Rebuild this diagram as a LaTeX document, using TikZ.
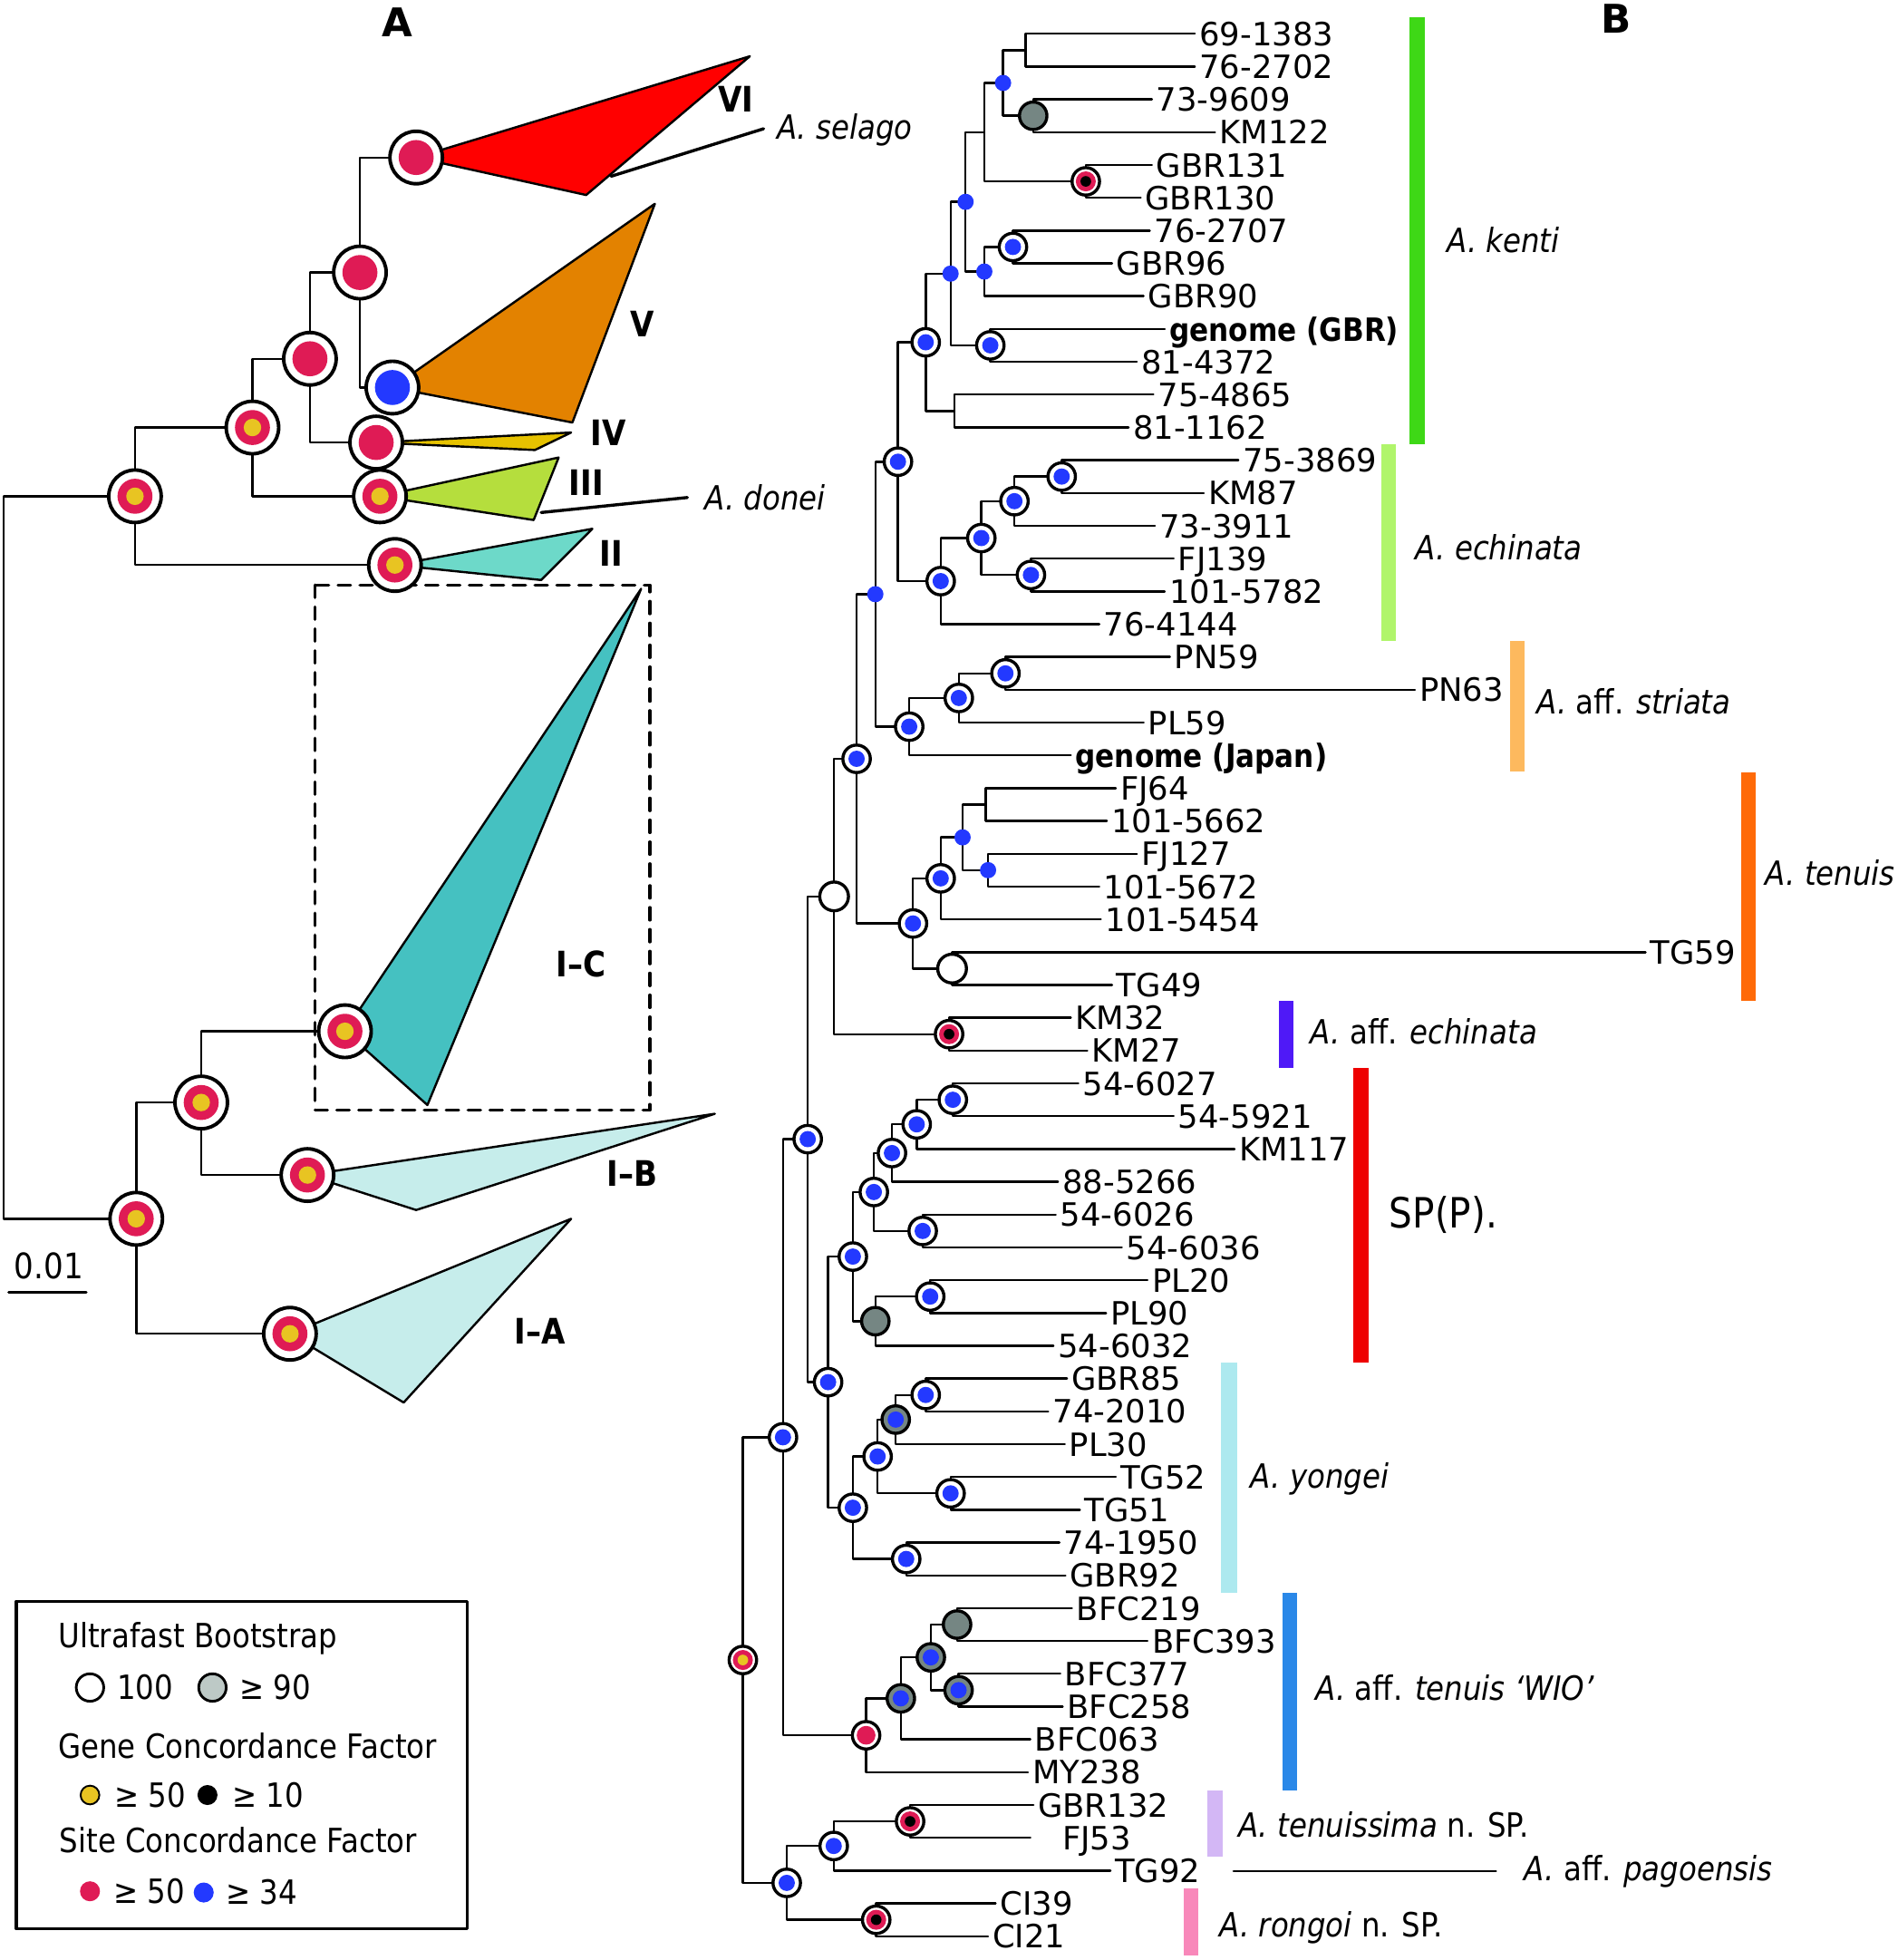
\documentclass[tikz,border=0pt]{standalone}
\usepackage{fontspec}
\setmainfont{DejaVu Sans}
\newfontfamily\estrecha{DejaVu Sans}[FakeStretch=0.88]
\usepackage{tikz}
\usepackage{xcolor}

% colores de soporte
\definecolor{rojoscf}{HTML}{DF1B55}
\definecolor{azulscf}{HTML}{2339FF}
\definecolor{amarillogcf}{HTML}{E8C422}
\definecolor{grisbs}{HTML}{758683}
\definecolor{grisley}{HTML}{BDC9C6}
% colores de clados (panel A)
\definecolor{cladoVI}{HTML}{FF0000}
\definecolor{cladoV}{HTML}{E38200}
\definecolor{cladoIV}{HTML}{E6C200}
\definecolor{cladoIII}{HTML}{B5DE3D}
\definecolor{cladoII}{HTML}{6DD9C9}
\definecolor{cladoIC}{HTML}{45C1C1}
\definecolor{cladoIAB}{HTML}{C6EDEB}
% colores de barras (panel B)
\definecolor{bkenti}{HTML}{3ED816}
\definecolor{bechinata}{HTML}{B0F56B}
\definecolor{bstriata}{HTML}{FDB95E}
\definecolor{btenuis}{HTML}{FF6A08}
\definecolor{baffech}{HTML}{4F19F7}
\definecolor{bsp}{HTML}{EE0000}
\definecolor{byongei}{HTML}{ADE9EF}
\definecolor{bwio}{HTML}{2A88E8}
\definecolor{btenuissima}{HTML}{D3B7F5}
\definecolor{brongoi}{HTML}{F888BA}

\begin{document}
\begin{tikzpicture}[x=0.1mm, y=-0.1mm, line cap=round, line join=round,
    rama/.style={line width=0.5pt},
    triangulo/.style={line width=0.5pt, draw=black},
    letra/.style={font=\bfseries\fontsize{9}{10}\selectfont, inner sep=0pt},
    romano/.style={font=\estrecha\bfseries\fontsize{8}{9}\selectfont, inner sep=0pt},
    etiqueta/.style={anchor=west, inner sep=0pt, font=\estrecha\fontsize{7.6}{9}\selectfont},
    hoja/.style={anchor=west, inner sep=0.3mm, text depth=0pt, font=\fontsize{7.3}{8}\selectfont},
    leyenda/.style={anchor=west, inner sep=0pt, font=\estrecha\fontsize{7.6}{9}\selectfont},
    bsA/.style={circle, draw, line width=0.8pt, fill=white, minimum size=4.2mm, inner sep=0pt},
    scfA/.style={circle, fill=#1, minimum size=2.8mm, inner sep=0pt},
    gcfA/.style={circle, fill=amarillogcf, minimum size=1.4mm, inner sep=0pt},
    bsB/.style={circle, draw, line width=0.7pt, fill=#1, minimum size=2.2mm, inner sep=0pt},
    bsB/.default=white,
    puntoB/.style={circle, fill=#1, minimum size=1.3mm, inner sep=0pt},
    centroB/.style={circle, fill=#1, minimum size=0.85mm, inner sep=0pt}
]
\useasboundingbox (0,0) rectangle (1518,1568);

% === PANEL A (arbol resumido) ===
\node[letra] (letraA) at (318,18) {A};
% nodos internos
\foreach \n/\x/\y in {ra/3/686, a1/108/397, a2/202/342, a3/248/287, a4/288/218,
    a5/314/310, a6/333/126, a7/301/354, a8/304/397, a9/316/452,
    b1/109/975, b2/161/882, b3/276/825, b4/246/940, b5/232/1067}
  \coordinate (\n) at (\x,\y);
% ramas
\foreach \p/\c in {ra/a1, ra/b1, a1/a2, a1/a9, a2/a3, a2/a8, a3/a4, a3/a7,
    a4/a6, a4/a5, b1/b2, b1/b5, b2/b3, b2/b4}
  \draw[rama] (\p) |- (\c);
% triangulos de los clados
\filldraw[triangulo, fill=cladoVI] (a6) -- (600,45) -- (469,156) -- cycle;
\filldraw[triangulo, fill=cladoV] (a5) -- (524,163) -- (458,338) -- cycle;
\filldraw[triangulo, fill=cladoIV] (a7) -- (457,346) -- (428,360) -- cycle;
\filldraw[triangulo, fill=cladoIII] (a8) -- (447,366) -- (427,416) -- cycle;
\filldraw[triangulo, fill=cladoII] (a9) -- (474,423) -- (433,464) -- cycle;
\filldraw[triangulo, fill=cladoIC] (b3) -- (513,471) -- (342,884) -- cycle;
\filldraw[triangulo, fill=cladoIAB] (b4) -- (572,891) -- (333,968) -- cycle;
\filldraw[triangulo, fill=cladoIAB] (b5) -- (457,975) -- (323,1122) -- cycle;
% especies sueltas
\node[etiqueta] (nselago) at (621,104) {\textit{A. selago}};
\node[etiqueta] (ndonei) at (563,398) {\textit{A. donei}};
\coordinate (fselago) at (611,103);
\coordinate (fdonei) at (550,398);
\draw[line width=0.7pt] (489,141) -- (fselago);
\draw[line width=0.7pt] (433,410) -- (fdonei);
% recuadro discontinuo del clado I-C
\draw[line width=0.7pt, dash pattern=on 1mm off 0.75mm] (252,468) rectangle (520,888);
% marcadores: blanco, rojo y amarillo
\foreach \n in {a1,a2,a8,a9,b1,b2,b3,b4,b5}{
  \node[bsA] (bs-\n) at (\n) {};
  \node[scfA=rojoscf] (sc-\n) at (\n) {};
  \node[gcfA] (gc-\n) at (\n) {};
}
% marcadores: blanco y rojo
\foreach \n in {a3,a4,a6,a7}{
  \node[bsA] (bs-\n) at (\n) {};
  \node[scfA=rojoscf] (sc-\n) at (\n) {};
}
\node[bsA] (bs-a5) at (a5) {};
\node[scfA=azulscf] (sc-a5) at (a5) {};
% numerales de los clados
\node[romano] (nVI) at (589,79) {VI};
\node[romano] (nV) at (514,259) {V};
\node[romano] (nIV) at (487,346) {IV};
\node[romano] (nIII) at (469,386) {III};
\node[romano] (nII) at (489,443) {II};
\node[romano] (nIC) at (465,771) {I–C};
\node[romano] (nIB) at (506,939) {I–B};
\node[romano] (nIA) at (432,1065) {I–A};
% barra de escala
\draw[line width=0.6pt] (7,1034) -- (69,1034);
\node[font=\estrecha\fontsize{8}{9}\selectfont, inner sep=0pt] (escala) at (39,1013) {0.01};

% === PANEL B (arbol completo) ===
\node[letra] (letraB) at (1293,15) {B};
% nodos internos (x, posicion en filas de hojas)
\foreach \n/\x/\r in {rt/594.4/50.58, u/626.5/43.79, q/646.3/34.70, wn/667.4/27.30,
    p2/685.4/23.105, p1/700.4/18.086, e0/718.5/14.047,
    k0/740.7/10.406, k1/760.6/8.3125, k2/772.6/6.125, k3/787.6/4, k4/802.6/2.5,
    k5/820.7/1.5, k6/826.7/3.5, k7/868.8/5.5, k8/787.6/8.25, k9/810.5/7.5,
    k10/792.4/10.5, k11/763.6/12.5,
    e1/752.7/17.6875, e2/785.2/16.375, e3/811.7/15.25, e4/849.5/14.5, e5/824.9/17.5,
    s1/727.5/22.125, s2/767.2/21.25, s3/804.5/20.5,
    n1/730.5/28.125, n2/752.7/26.75, n3/770.2/25.5, n4/788.8/24.5, n5/790.6/26.5,
    n6/761.8/29.5, km/759.4/31.5,
    r/662.6/42.109, r2/682.4/38.281, r3/699.2/36.3125, r4/713.7/35.125,
    r5/733.5/34.25, r6/762.4/33.5, r7/738.3/37.5, r8/700.4/40.25, r9/744.3/39.5,
    y1/682.4/45.9375, y2/702.2/44.375, y3/716.7/43.25, y4/740.7/42.5,
    y5/760.6/45.5, y6/725.1/47.5,
    w1/693/52.875, w2/720.8/51.75, w3/744.8/50.5, w4/765.8/49.5, w5/767/51.5,
    x1/629.5/57.375, x2/667.1/56.25, x3/728.2/55.5, x4/701.1/58.5}
  \coordinate (\n) at (\x,{27+26.24*(\r-1)});
% hojas con sus nombres
\foreach \i/\xe/\lab in {1/956/69-1383, 2/956/76-2702, 3/921.7/73-9609, 4/972.2/KM122,
    5/921.7/GBR131, 6/912.7/GBR130, 7/920/76-2707, 8/889.8/GBR96, 9/915/GBR90,
    10/932/{\estrecha\bfseries genome (GBR)}, 11/909.6/81-4372, 12/922.9/75-4865,
    13/903/81-1162, 14/990.8/75-3869, 15/963.2/KM87, 16/924.1/73-3911,
    17/939.1/FJ139, 18/931.9/101-5782, 19/879.6/76-4144, 20/936.1/PN59,
    21/1132.1/PN63, 22/915.1/PL59, 23/856.8/{\estrecha\bfseries genome (Japan)},
    24/892.8/FJ64, 25/885.6/101-5662, 26/909.7/FJ127, 27/879.6/101-5672,
    28/880.8/101-5454, 29/1316.7/TG59, 30/889.8/TG49, 31/856.8/KM32, 32/870/KM27,
    33/862.8/54-6027, 34/939.1/54-5921, 35/987.8/KM117, 36/846.5/88-5266,
    37/844.7/54-6026, 38/897.6/54-6036, 39/918.1/PL20, 40/885/PL90,
    41/842.9/54-6032, 42/853.7/GBR85, 43/838.7/74-2010, 44/852/PL30,
    45/892.8/TG52, 46/864/TG51, 47/847.7/74-1950, 48/852.5/GBR92,
    49/857.7/BFC219, 50/918.1/BFC393, 51/848.4/BFC377, 52/850.3/BFC258,
    53/824.4/BFC063, 54/822.5/MY238, 55/826.9/GBR132, 56/824.4/{\hspace{2.2mm}FJ53},
    57/888.5/TG92, 58/796.6/CI39, 59/790.5/CI21}{
  \coordinate (h\i) at (\xe,{27+26.24*(\i-1)});
  \node[hoja] (l\i) at (h\i) {\lab};
}
% ramas
\foreach \p/\c in {rt/u, rt/x1, u/q, u/w1, q/wn, q/r, wn/p2, wn/km, p2/p1, p2/n1,
    p1/e0, p1/s1, e0/k0, e0/e1, k0/k1, k0/k11, k1/k2, k1/k10, k2/k3, k2/k8,
    k3/k4, k3/k7, k4/k5, k4/k6, k5/h1, k5/h2, k6/h3, k6/h4, k7/h5, k7/h6,
    k8/k9, k8/h9, k9/h7, k9/h8, k10/h10, k10/h11, k11/h12, k11/h13,
    e1/e2, e1/h19, e2/e3, e2/e5, e3/e4, e3/h16, e4/h14, e4/h15, e5/h17, e5/h18,
    s1/s2, s1/h23, s2/s3, s2/h22, s3/h20, s3/h21,
    n1/n2, n1/n6, n2/n3, n2/h28, n3/n4, n3/n5, n4/h24, n4/h25, n5/h26, n5/h27,
    n6/h29, n6/h30, km/h31, km/h32,
    r/r2, r/y1, r2/r3, r2/r8, r3/r4, r3/r7, r4/r5, r4/h36, r5/r6, r5/h35,
    r6/h33, r6/h34, r7/h37, r7/h38, r8/r9, r8/h41, r9/h39, r9/h40,
    y1/y2, y1/y6, y2/y3, y2/y5, y3/y4, y3/h44, y4/h42, y4/h43, y5/h45, y5/h46,
    y6/h47, y6/h48,
    w1/w2, w1/h54, w2/w3, w2/h53, w3/w4, w3/w5, w4/h49, w4/h50, w5/h51, w5/h52,
    x1/x2, x1/x4, x2/x3, x2/h57, x3/h55, x3/h56, x4/h58, x4/h59}
  \draw[rama] (\p) |- (\c);
% marcadores: anillo blanco con punto azul
\foreach \n in {k0,k9,k10,e0,e1,e2,e3,e4,e5,s1,s2,s3,p2,n1,n2,r,r2,r3,r4,r5,r6,r7,r9,
    q,y1,y2,y4,y5,y6,u,x1,x2}{
  \node[bsB] (bs-\n) at (\n) {};
  \node[puntoB=azulscf] (sc-\n) at (\n) {};
}
% marcadores: solo punto azul
\foreach \n in {k1,k2,k4,k8,p1,n3,n5}
  \node[puntoB=azulscf] (sc-\n) at (\n) {};
% marcadores: gris
\foreach \n in {k6,r8,w4}
  \node[bsB=grisbs] (bs-\n) at (\n) {};
% marcadores: gris con punto azul
\foreach \n in {y3,w2,w3,w5}{
  \node[bsB=grisbs] (bs-\n) at (\n) {};
  \node[puntoB=azulscf] (sc-\n) at (\n) {};
}
% marcadores: rojo con centro negro
\foreach \n in {k7,km,x3,x4}{
  \node[bsB] (bs-\n) at (\n) {};
  \node[puntoB=rojoscf, minimum size=1.6mm] (sc-\n) at (\n) {};
  \node[centroB=black] (gc-\n) at (\n) {};
}
% marcadores: solo blanco
\foreach \n in {wn,n6}
  \node[bsB, minimum size=2.3mm] (bs-\n) at (\n) {};
\node[bsB] (bs-w1) at (w1) {};
\node[puntoB=rojoscf, minimum size=1.5mm] (sc-w1) at (w1) {};
% raiz
\node[bsB] (bs-rt) at (rt) {};
\node[puntoB=rojoscf, minimum size=1.6mm] (sc-rt) at (rt) {};
\node[centroB=amarillogcf] (gc-rt) at (rt) {};

% barras de especies
\fill[bkenti] (1128,14) rectangle (1140,355);
\fill[bechinata] (1105,355) rectangle (1117,513);
\fill[bstriata] (1208,513) rectangle (1220,617);
\fill[btenuis] (1393,618) rectangle (1405,801);
\fill[baffech] (1023,801) rectangle (1035,854);
\fill[bsp] (1083,854) rectangle (1095,1090);
\fill[byongei] (977,1090) rectangle (990,1274);
\fill[bwio] (1026,1274) rectangle (1038,1432);
\fill[btenuissima] (966,1432) rectangle (978,1485);
\fill[brongoi] (947,1511) rectangle (959,1564);
% nombres de especies
\node[etiqueta] (gkenti) at (1157,192) {\textit{A. kenti}};
\node[etiqueta] (gechinata) at (1132,438) {\textit{A. echinata}};
\node[etiqueta] (gstriata) at (1229,561) {\textit{A.} aff. \textit{striata}};
\node[etiqueta] (gtenuis) at (1412,698) {\textit{A. tenuis}};
\node[etiqueta] (gaffech) at (1048,825) {\textit{A.} aff. \textit{echinata}};
\node[etiqueta, font=\estrecha\fontsize{9.5}{10}\selectfont] (gsp) at (1111,972) {SP(P).};
\node[etiqueta] (gyongei) at (1000,1183) {\textit{A. yongei}};
\node[etiqueta] (gwio) at (1052,1350) {\textit{A.} aff. \textit{tenuis ‘WIO’}};
\node[etiqueta] (gtenuissima) at (990,1460) {\textit{A. tenuissima} n. SP.};
\node[etiqueta] (gpago) at (1219,1497) {\textit{A.} aff. \textit{pagoensis}};
\node[etiqueta] (grongoi) at (975,1542) {\textit{A. rongoi} n. SP.};
\coordinate (pago0) at (987,1497);
\coordinate (pago1) at (1197,1497);
\draw[rama] (pago0) -- (pago1);

% === LEYENDA ===
\draw[line width=0.7pt] (13,1281) rectangle (374,1543);
\node[leyenda] (ley-bs) at (46,1311) {Ultrafast Bootstrap};
\node[circle, draw, line width=0.6pt, fill=white, minimum size=2.2mm, inner sep=0pt] (ley-100) at (72,1350) {};
\node[leyenda] (ley-t100) at (93,1350) {100};
\node[circle, draw, line width=0.6pt, fill=grisley, minimum size=2.2mm, inner sep=0pt] (ley-90) at (170,1350) {};
\node[leyenda] (ley-t90) at (191,1350) {≥ 90};
\node[leyenda] (ley-gcf) at (46,1397) {Gene Concordance Factor};
\node[circle, draw, line width=0.4pt, fill=amarillogcf, minimum size=1.5mm, inner sep=0pt] (ley-y) at (72,1436) {};
\node[leyenda] (ley-t50a) at (91,1436) {≥ 50};
\node[circle, fill=black, minimum size=1.6mm, inner sep=0pt] (ley-k) at (166,1436) {};
\node[leyenda] (ley-t10) at (185,1436) {≥ 10};
\node[leyenda] (ley-scf) at (47,1472) {Site Concordance Factor};
\node[circle, fill=rojoscf, minimum size=1.6mm, inner sep=0pt] (ley-r) at (72,1513) {};
\node[leyenda] (ley-t50b) at (90,1513) {≥ 50};
\node[circle, fill=azulscf, minimum size=1.6mm, inner sep=0pt] (ley-b) at (163,1514) {};
\node[leyenda] (ley-t34) at (180,1514) {≥ 34};

\end{tikzpicture}
\end{document}
